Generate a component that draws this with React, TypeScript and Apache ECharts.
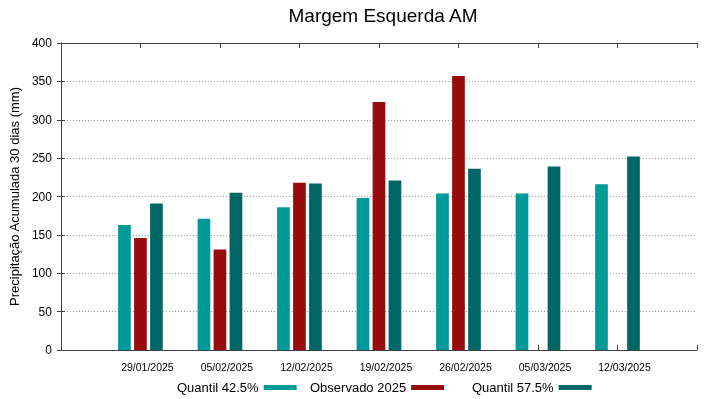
import React, { useEffect, useRef } from "react";
import * as echarts from "echarts";

const dates = ["29/01/2025", "05/02/2025", "12/02/2025", "19/02/2025", "26/02/2025", "05/03/2025", "12/03/2025"];
const q425 = [163, 171, 186, 198, 204, 204, 216];
const observed: (number | null)[] = [146, 131, 218, 323, 357, null, null];
const q575 = [191, 205, 217, 221, 236, 239, 252];
const yTicks = [0, 50, 100, 150, 200, 250, 300, 350, 400];

const FONT = "Liberation Sans, Arial, sans-serif";
const C1 = "#009999";
const C2 = "#990c0c";
const C3 = "#006766";
const AXIS = "#404040";

export default function App() {
  const ref = useRef<HTMLDivElement>(null);
  useEffect(() => {
    if (!ref.current) return;
    const chart = echarts.init(ref.current, undefined, { renderer: "svg" });
    const toPts = (arr: (number | null)[]) => arr.map((v, i) => [i + 1, v]);
    const legendBase = {
      orient: "horizontal" as const,
      top: 381,
      padding: 0,
      align: "right" as const,
      itemWidth: 33,
      itemHeight: 5,
      icon: "rect",
      textStyle: { fontFamily: FONT, fontSize: 13, color: "#000" },
      selectedMode: false,
    };
    chart.setOption({
      animation: false,
      textStyle: { fontFamily: FONT },
      title: {
        text: "Margem Esquerda AM",
        left: 378,
        textAlign: "center",
        top: 1,
        padding: [5, 5, 5, 5],
        textStyle: { fontFamily: FONT, fontSize: 19, fontWeight: "normal", color: "#000" },
      },
      legend: [
        { ...legendBase, left: 177, data: ["Quantil 42.5%"] },
        { ...legendBase, left: 310, data: ["Observado 2025"] },
        { ...legendBase, left: 472, data: ["Quantil 57.5%"] },
      ],
      grid: { left: 59, right: 22, top: 43, bottom: 49 },
      xAxis: [
        {
          type: "value",
          min: 0,
          max: 8,
          interval: 1,
          position: "bottom",
          axisLine: { show: true, onZero: false, lineStyle: { color: AXIS, width: 1 } },
          axisTick: { show: true, inside: true, length: 5, lineStyle: { color: AXIS } },
          splitLine: { show: false },
          axisLabel: {
            fontFamily: FONT,
            fontSize: 10.5,
            color: "#000",
            margin: 11,
            padding: [0, 0, 0, 14],
            formatter: (v: number) => (v >= 1 && v <= dates.length ? dates[v - 1] : ""),
          },
        },
        {
          type: "value",
          min: 0,
          max: 8,
          interval: 1,
          position: "top",
          axisLine: { show: true, onZero: false, lineStyle: { color: AXIS, width: 1 } },
          axisTick: { show: true, inside: true, length: 5, lineStyle: { color: AXIS } },
          splitLine: { show: false },
          axisLabel: { show: false },
        },
      ],
      yAxis: [
        {
          type: "value",
          min: yTicks[0],
          max: yTicks[yTicks.length - 1],
          interval: 50,
          name: "Precipitação Acumulada 30 dias (mm)",
          nameLocation: "middle",
          nameGap: 32,
          nameTextStyle: { fontFamily: FONT, fontSize: 13, color: "#000" },
          axisLine: { show: true, lineStyle: { color: AXIS, width: 1 } },
          axisTick: { show: true, inside: true, length: 4, lineStyle: { color: AXIS } },
          axisLabel: { fontFamily: FONT, fontSize: 12, color: "#000", margin: 9 },
          splitLine: { show: true, lineStyle: { color: "#999", type: [1, 2], width: 1 } },
        },
        {
          type: "value",
          min: yTicks[0],
          max: yTicks[yTicks.length - 1],
          interval: 50,
          position: "right",
          axisLine: { show: true, lineStyle: { color: AXIS, width: 1 } },
          axisTick: { show: true, inside: true, length: 4, lineStyle: { color: AXIS } },
          axisLabel: { show: false },
          splitLine: { show: false },
        },
      ],
      series: [
        {
          name: "Quantil 42.5%",
          type: "bar",
          data: toPts(q425),
          barWidth: 12.7,
          barGap: "26%",
          itemStyle: { color: C1 },
        },
        {
          name: "Observado 2025",
          type: "bar",
          data: toPts(observed),
          barWidth: 12.7,
          barGap: "26%",
          itemStyle: { color: C2 },
        },
        {
          name: "Quantil 57.5%",
          type: "bar",
          data: toPts(q575),
          barWidth: 12.7,
          barGap: "26%",
          itemStyle: { color: C3 },
        },
      ],
    });
    return () => chart.dispose();
  }, []);
  return <div ref={ref} style={{ width: 719, height: 399, position: "fixed", left: 0, top: 0 }} />;
}
